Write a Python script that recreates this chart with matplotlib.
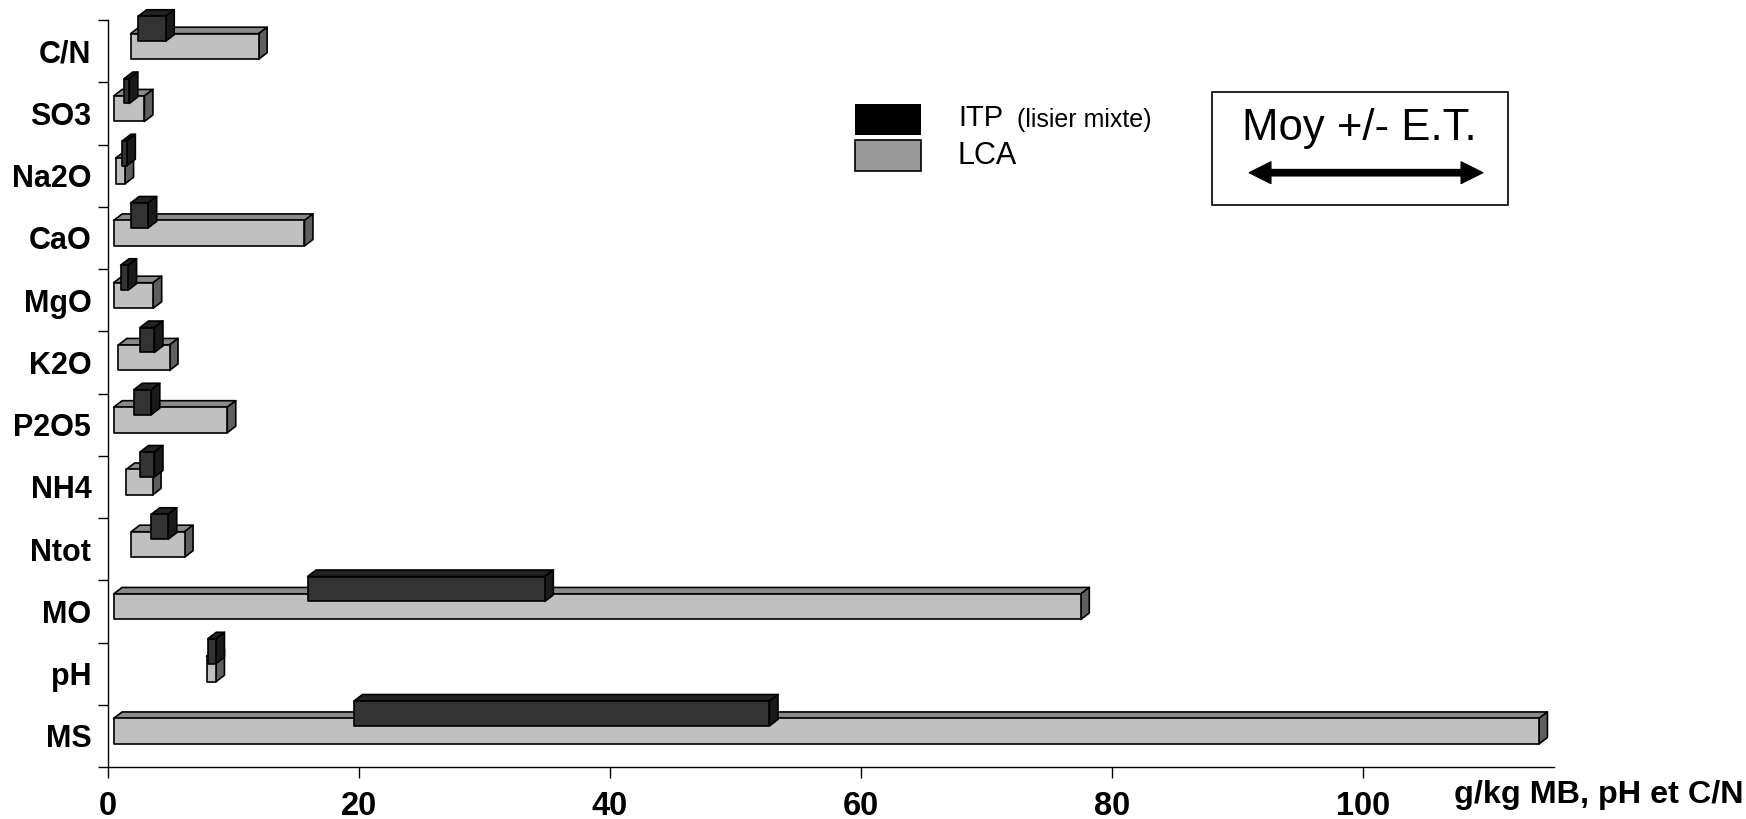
import matplotlib
matplotlib.use("Agg")
import matplotlib.pyplot as plt
from matplotlib.patches import Polygon, Rectangle

plt.rcParams["font.family"] = ["Liberation Sans", "DejaVu Sans"]

# Categories listed top to bottom
categories = ["C/N", "SO3", "Na2O", "CaO", "MgO", "K2O",
              "P2O5", "NH4", "Ntot", "MO", "pH", "MS"]

# LCA range (mean - SD, mean + SD)
lca_low = [1.8, 0.45, 0.6, 0.45, 0.45, 0.83, 0.45, 1.45, 1.85, 0.45, 7.85, 0.45]
lca_high = [12.0, 2.9, 1.36, 15.65, 3.6, 4.9, 9.5, 3.55, 6.1, 77.5, 8.6, 114.0]

# ITP (lisier mixte) range
itp_low = [2.4, 1.3, 1.15, 1.8, 1.0, 2.55, 2.05, 2.55, 3.45, 15.9, 7.95, 19.6]
itp_high = [4.6, 1.7, 1.5, 3.2, 1.6, 3.7, 3.45, 3.7, 4.8, 34.8, 8.6, 52.7]

xticks = [0, 20, 40, 60, 80, 100]

W, H = 1746, 819
fig = plt.figure(figsize=(W / 100, H / 100), dpi=100)

# axes placed in pixel terms: x=0 at 108 px, top at 20 px, bottom at 767 px
XMAX = 115.2
ax = fig.add_axes([108 / W, 1 - 767 / H, (1554 - 108) / W, (767 - 20) / H])
ax.set_xlim(0, XMAX)
ax.set_ylim(len(categories), 0)

px_x = (1554 - 108) / XMAX
px_y = (767 - 20) / len(categories)
DX = 8.5 / px_x   # depth of the fake 3D extrusion
DY = 6.5 / px_y

LCA_FACES = ("#c0c0c0", "#8a8a8a", "#5f5f5f")
ITP_FACES = ("#333333", "#222222", "#1a1a1a")


def box3d(ax, lo, hi, top, height, faces):
    front, topc, side = faces
    bot = top + height
    kw = dict(edgecolor="black", linewidth=1.2, joinstyle="round", clip_on=False)
    ax.add_patch(Polygon([(lo, top), (hi, top), (hi + DX, top - DY), (lo + DX, top - DY)],
                         closed=True, facecolor=topc, **kw))
    ax.add_patch(Polygon([(hi, top), (hi + DX, top - DY), (hi + DX, bot - DY), (hi, bot)],
                         closed=True, facecolor=side, **kw))
    ax.add_patch(Rectangle((lo, top), hi - lo, height, facecolor=front, **kw))


for i in range(len(categories)):
    box3d(ax, lca_low[i], lca_high[i], i + 0.22, 0.41, LCA_FACES)
    box3d(ax, itp_low[i], itp_high[i], i - 0.06, 0.40, ITP_FACES)

for side in ("top", "right"):
    ax.spines[side].set_visible(False)
for side in ("left", "bottom"):
    ax.spines[side].set_linewidth(1.0)

ax.set_xticks(xticks)
ax.set_xticklabels([str(v) for v in xticks], fontsize=23.5, fontweight="bold")
ax.tick_params(axis="x", direction="out", length=8, width=1, pad=9)

ax.set_yticks(range(len(categories) + 1))
ax.set_yticklabels([])
ax.tick_params(axis="y", which="major", direction="out", length=7.5, width=1)
ax.set_yticks([i + 0.5 for i in range(len(categories))], minor=True)
ax.set_yticklabels(categories, minor=True, fontsize=22, fontweight="bold")
ax.tick_params(axis="y", which="minor", length=0, pad=12)

fig.text(1744 / W, 1 - 803 / H, "g/kg MB, pH et C/N", ha="right", va="baseline",
         fontsize=23.3, fontweight="bold")

# legend and note drawn on a pixel-space overlay
ov = fig.add_axes([0, 0, 1, 1], zorder=5)
ov.set_xlim(0, W)
ov.set_ylim(H, 0)
ov.axis("off")
ov.patch.set_alpha(0)

ov.add_patch(Rectangle((855, 103.5), 66, 31, facecolor="black", edgecolor="none"))
ov.add_patch(Rectangle((855, 140), 66, 31, facecolor="#999999", edgecolor="black",
                       linewidth=1.2))
ov.text(958, 126.5, "ITP", fontsize=21, va="baseline", ha="left")
ov.text(1017, 126.5, "(lisier mixte)", fontsize=18, va="baseline", ha="left")
ov.text(958, 164, "LCA", fontsize=22, va="baseline", ha="left")

ov.add_patch(Rectangle((1211.5, 91.5), 296.5, 113.5, facecolor="white",
                       edgecolor="black", linewidth=1.2))
ov.text(1359, 140, "Moy +/- E.T.", fontsize=31.5, ha="center", va="baseline")

# double-headed arrow
x0, x1, yc = 1249, 1483, 172.7
hl, hw, sw = 22, 11, 3.3
ov.add_patch(Polygon([
    (x0, yc), (x0 + hl, yc - hw), (x0 + hl, yc - sw), (x1 - hl, yc - sw),
    (x1 - hl, yc - hw), (x1, yc), (x1 - hl, yc + hw), (x1 - hl, yc + sw),
    (x0 + hl, yc + sw), (x0 + hl, yc + hw)], closed=True,
    facecolor="black", edgecolor="black", linewidth=0.8))

fig.savefig("out.png", dpi=100)
